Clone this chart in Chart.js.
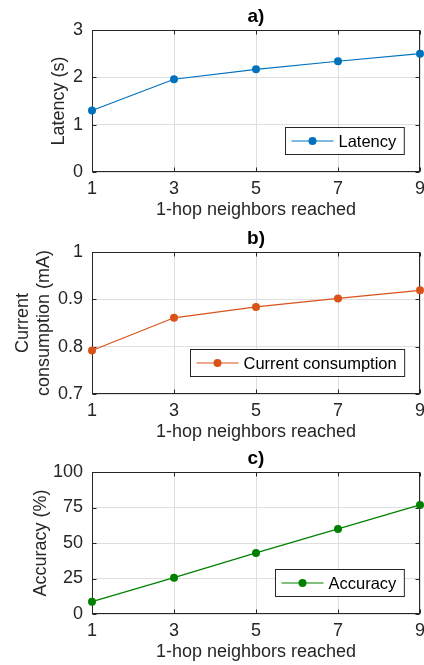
<!DOCTYPE html>
<html>
<head>
<meta charset="utf-8">
<script src="https://cdn.jsdelivr.net/npm/chart.js@4"></script>
<style>
  html, body { margin: 0; padding: 0; background: #fff; overflow: hidden; width: 424px; height: 665px; }
  .panel { position: absolute; left: 0; width: 450px; height: 221px; }
</style>
</head>
<body>
<div class="panel" style="top:0"><canvas id="latChart" width="450" height="221"></canvas></div>
<div class="panel" style="top:222px"><canvas id="curChart" width="450" height="221"></canvas></div>
<div class="panel" style="top:442px"><canvas id="accChart" width="450" height="221"></canvas></div>
<script>
// values
const neighbors = [1, 3, 5, 7, 9];
const latency = [1.3, 1.96, 2.17, 2.34, 2.5];
const current = [0.792, 0.861, 0.884, 0.902, 0.919];
const accuracy = [8.7, 25.6, 43, 59.9, 76.8];

const xTicks = [1, 3, 5, 7, 9];
const latTicks = [0, 1, 2, 3];
const curTicks = [0.7, 0.8, 0.9, 1];
const accTicks = [0, 25, 50, 75, 100];

const FONT = '"Liberation Sans", Arial, sans-serif';
const INK = "#262626";
Chart.defaults.font.family = FONT;
Chart.defaults.color = INK;

// axes box, inward ticks, panel title and in-plot legend (MATLAB look)
const frame = {
  id: "frame",
  beforeDatasetsDraw(chart) {
    const { ctx, chartArea: a, scales: { x, y } } = chart;
    const l = Math.round(a.left) + 0.5, r = Math.round(a.right) - 0.5;
    const t = Math.round(a.top) + 0.5, b = Math.round(a.bottom) - 0.5;
    ctx.save();
    ctx.strokeStyle = INK;
    ctx.lineWidth = 1;
    ctx.strokeRect(l, t, r - l, b - t);
    ctx.beginPath();
    x.ticks.forEach((tk) => {
      const px = Math.round(x.getPixelForValue(tk.value)) + 0.5;
      ctx.moveTo(px, b); ctx.lineTo(px, b - 4);
      ctx.moveTo(px, t); ctx.lineTo(px, t + 4);
    });
    y.ticks.forEach((tk) => {
      const py = Math.round(y.getPixelForValue(tk.value)) + 0.5;
      ctx.moveTo(l, py); ctx.lineTo(l + 4, py);
      ctx.moveTo(r, py); ctx.lineTo(r - 4, py);
    });
    ctx.stroke();
    ctx.restore();
  },
  afterDraw(chart, args, opts) {
    const { ctx, chartArea: a } = chart;
    const ds = chart.data.datasets[0];
    ctx.save();
    // panel title
    ctx.fillStyle = "#000";
    ctx.font = `bold 19px ${FONT}`;
    ctx.textAlign = "center";
    ctx.textBaseline = "middle";
    ctx.fillText(opts.title, (a.left + a.right) / 2, 16.5);
    // legend
    ctx.font = `16.5px ${FONT}`;
    const tw = ctx.measureText(ds.label).width;
    const w = 6 + 42 + 5 + tw + 8, h = 27;
    const bx = Math.round(a.right - 16 - w) + 0.5, by = Math.round(a.bottom - 18.5 - h) + 0.5;
    ctx.fillStyle = "#fff";
    ctx.fillRect(bx, by, w, h);
    ctx.strokeStyle = INK;
    ctx.lineWidth = 1;
    ctx.strokeRect(bx, by, w, h);
    const cy = by + h / 2;
    ctx.strokeStyle = ds.borderColor;
    ctx.lineWidth = 1.2;
    ctx.beginPath();
    ctx.moveTo(bx + 6, cy); ctx.lineTo(bx + 48, cy);
    ctx.stroke();
    ctx.fillStyle = ds.borderColor;
    ctx.beginPath();
    ctx.arc(bx + 27, cy, 4, 0, Math.PI * 2);
    ctx.fill();
    ctx.fillStyle = "#000";
    ctx.textAlign = "left";
    ctx.fillText(ds.label, bx + 53, cy + 1);
    ctx.restore();
  },
};

function makeChart(id, { label, values, color, yTicks, yTitle, titlePad, panel }) {
  const setTicks = (arr) => (scale) => { scale.ticks = arr.map((v) => ({ value: v })); };
  return new Chart(document.getElementById(id), {
    type: "line",
    data: {
      labels: neighbors,
      datasets: [{
        label,
        data: neighbors.map((n, i) => ({ x: n, y: values[i] })),
        borderColor: color,
        backgroundColor: color,
        borderWidth: 1.2,
        pointRadius: 4,
        pointHoverRadius: 4,
        pointBorderWidth: 0,
        tension: 0,
        clip: false,
      }],
    },
    options: {
      responsive: false,
      animation: false,
      devicePixelRatio: 1,
      layout: { padding: { top: 30, right: 30, left: 0, bottom: 0 } },
      plugins: { legend: { display: false }, tooltip: { enabled: false }, title: { display: false }, frame: { title: panel } },
      scales: {
        x: {
          type: "linear",
          min: xTicks[0],
          max: xTicks[xTicks.length - 1],
          afterBuildTicks: setTicks(xTicks),
          afterFit: (s) => { s.height = 49; },
          grid: { color: "#dfdfdf", drawTicks: false },
          border: { display: false },
          ticks: { padding: 6, font: { size: 18 }, color: INK, callback: (v) => String(v) },
          title: { display: true, text: "1-hop neighbors reached", font: { size: 18 }, color: INK, padding: { top: 0, bottom: 0 } },
        },
        y: {
          min: yTicks[0],
          max: yTicks[yTicks.length - 1],
          afterBuildTicks: setTicks(yTicks),
          afterFit: (s) => { s.width = 92; },
          grid: { color: "#dfdfdf", drawTicks: false },
          border: { display: false },
          ticks: { padding: 9, font: { size: 18 }, color: INK, callback: (v) => String(v) },
          title: { display: true, text: yTitle, font: { size: 18, lineHeight: 1.2 }, color: INK, padding: { top: titlePad, bottom: 0 } },
        },
      },
    },
    plugins: [frame],
  });
}

makeChart("latChart", {
  label: "Latency", values: latency, color: "#0072BD",
  yTicks: latTicks, yTitle: "Latency (s)", titlePad: 48, panel: "a)",
});
makeChart("curChart", {
  label: "Current consumption", values: current, color: "#D95319",
  yTicks: curTicks, yTitle: ["Current", "consumption (mA)"], titlePad: 12, panel: "b)",
});
makeChart("accChart", {
  label: "Accuracy", values: accuracy, color: "#008000",
  yTicks: accTicks, yTitle: "Accuracy (%)", titlePad: 30, panel: "c)",
});
</script>
</body>
</html>
